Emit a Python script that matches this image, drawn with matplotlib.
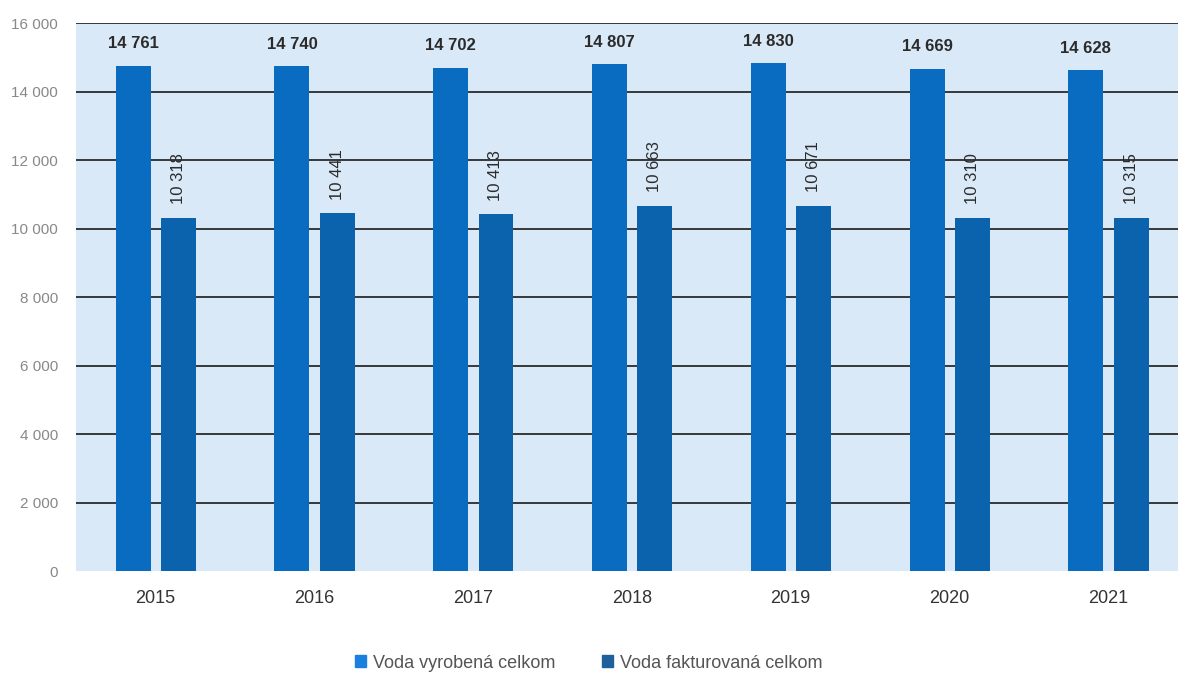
import numpy as np
import matplotlib.pyplot as plt
from matplotlib.ticker import FuncFormatter

plt.rcParams["font.family"] = ["Liberation Sans", "DejaVu Sans"]

years = ["2015", "2016", "2017", "2018", "2019", "2020", "2021"]
vyrobena = [14761, 14740, 14702, 14807, 14830, 14669, 14628]
fakturovana = [10318, 10441, 10413, 10663, 10671, 10310, 10315]
yticks = [0, 2000, 4000, 6000, 8000, 10000, 12000, 14000, 16000]


def fmt(v, pos=None):
    return f"{int(v):,}".replace(",", " ")


fig = plt.figure(figsize=(11.78, 6.79), dpi=100)
ax = fig.add_axes([0.0645, 0.159, 0.9355, 0.807])
ax.set_facecolor("#d9e9f8")

x = np.arange(len(years))
w = 0.22
b1 = ax.bar(x - 0.14, vyrobena, w, color="#0a6cc0", label="Voda vyrobená celkom", zorder=3)
b2 = ax.bar(x + 0.145, fakturovana, w, color="#0b63ad", label="Voda fakturovaná celkom", zorder=3)

for rect, v in zip(b1, vyrobena):
    ax.text(rect.get_x() + rect.get_width() / 2, v + 420, fmt(v), ha="center", va="bottom",
            fontsize=12, fontweight="bold", color="#2b2b2b")
for rect, v in zip(b2, fakturovana):
    ax.text(rect.get_x() + rect.get_width() / 2, v + 400, fmt(v), ha="center", va="bottom",
            rotation=90, fontsize=12, color="#2b2b2b")

ax.set_ylim(0, 16000)
ax.set_xlim(-0.5, 6.44)
ax.set_yticks(yticks)
ax.yaxis.set_major_formatter(FuncFormatter(fmt))
ax.set_xticks(x)
ax.set_xticklabels(years)
ax.tick_params(axis="y", length=0, pad=13, labelsize=11, labelcolor="#888888")
ax.tick_params(axis="x", length=0, pad=14, labelsize=13, labelcolor="#333333")
for t in yticks[1:]:
    ax.axhline(t, color="#2a2a2a", linewidth=1.3, zorder=2)
for s in ax.spines.values():
    s.set_visible(False)

leg = fig.legend(loc="lower center", bbox_to_anchor=(0.5, -0.013), ncol=2, frameon=False,
                 fontsize=13, handlelength=0.6, handleheight=0.6, handletextpad=0.4,
                 columnspacing=2.6)
for t in leg.get_texts():
    t.set_color("#555555")
leg.get_patches()[0].set_color("#1a80e0")
leg.get_patches()[1].set_color("#1f5f9e")

fig.savefig("out.png", dpi=100)
